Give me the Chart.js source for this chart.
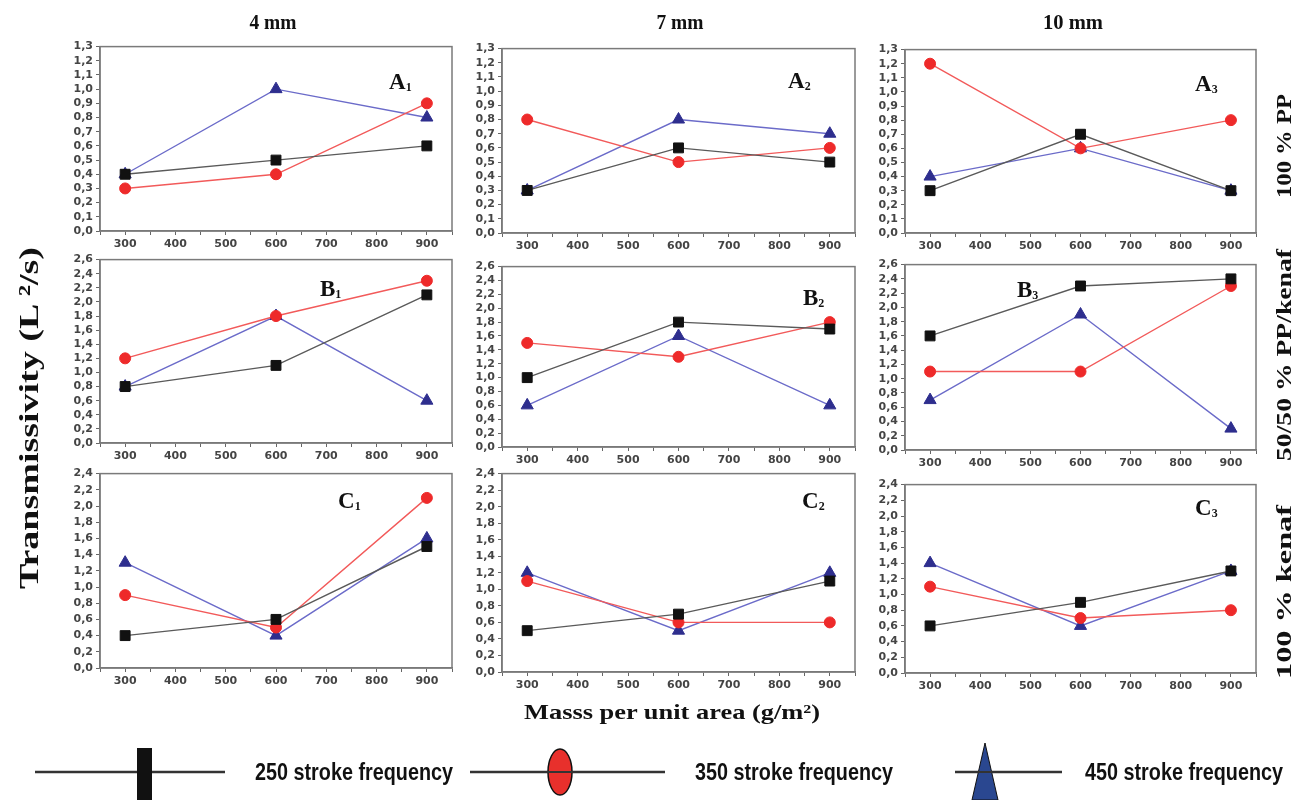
<!DOCTYPE html>
<html>
<head>
<meta charset="utf-8">
<script src="https://cdn.jsdelivr.net/npm/chart.js@4.4.0/dist/chart.umd.min.js"></script>
<style>
  html, body { margin: 0; padding: 0; background: #fff; }
  #page { position: relative; width: 1307px; height: 800px; overflow: hidden; }
  #page canvas { position: absolute; }
  #page svg { position: absolute; left: 0; top: 0; }
</style>
</head>
<body>
<div id="page"></div>
<script>
// mass per unit area (g/m2)
const massX = [300, 600, 900];

// row A : 100 % PP
const A1_250 = [0.4, 0.5, 0.6];
const A1_350 = [0.3, 0.4, 0.9];
const A1_450 = [0.4, 1.0, 0.8];
const A2_250 = [0.3, 0.6, 0.5];
const A2_350 = [0.8, 0.5, 0.6];
const A2_450 = [0.3, 0.8, 0.7];
const A3_250 = [0.3, 0.7, 0.3];
const A3_350 = [1.2, 0.6, 0.8];
const A3_450 = [0.4, 0.6, 0.3];

// row B : 50/50 % PP/kenaf
const B1_250 = [0.8, 1.1, 2.1];
const B1_350 = [1.2, 1.8, 2.3];
const B1_450 = [0.8, 1.8, 0.6];
const B2_250 = [1.0, 1.8, 1.7];
const B2_350 = [1.5, 1.3, 1.8];
const B2_450 = [0.6, 1.6, 0.6];
const B3_250 = [1.6, 2.3, 2.4];
const B3_350 = [1.1, 1.1, 2.3];
const B3_450 = [0.7, 1.9, 0.3];

// row C : 100 % kenaf
const C1_250 = [0.4, 0.6, 1.5];
const C1_350 = [0.9, 0.5, 2.1];
const C1_450 = [1.3, 0.4, 1.6];
const C2_250 = [0.5, 0.7, 1.1];
const C2_350 = [1.1, 0.6, 0.6];
const C2_450 = [1.2, 0.5, 1.2];
const C3_250 = [0.6, 0.9, 1.3];
const C3_350 = [1.1, 0.7, 0.8];
const C3_450 = [1.4, 0.6, 1.3];

const seriesNames = ['250 stroke frequency', '350 stroke frequency', '450 stroke frequency'];
const columnTitles = ['4 mm', '7 mm', '10 mm'];
const rowTitles = ['100 % PP', '50/50 % PP/kenaf', '100 % kenaf'];
const rowYMax = [1.3, 2.6, 2.4];
const rowYStep = [0.1, 0.2, 0.2];

// series look
const seriesStyle = [
  { line: '#5a5a5a', fill: '#111111', point: 'rect', r: 7 },
  { line: '#f25a5a', fill: '#ee2a2a', point: 'circle', r: 5.5 },
  { line: '#6b6bc9', fill: '#2e2e8e', point: 'triangle', r: 7 }
];

// plot area boxes [left, top, right, bottom] in page pixels
const panels = [
  { name: 'A', sub: '1', row: 0, data: [A1_250, A1_350, A1_450], box: [100, 45, 454, 231], tag: [389, 89] },
  { name: 'A', sub: '2', row: 0, data: [A2_250, A2_350, A2_450], box: [502, 47, 857, 233], tag: [788, 88] },
  { name: 'A', sub: '3', row: 0, data: [A3_250, A3_350, A3_450], box: [905, 48, 1258, 233], tag: [1195, 91] },
  { name: 'B', sub: '1', row: 1, data: [B1_250, B1_350, B1_450], box: [100, 258, 454, 443], tag: [320, 296] },
  { name: 'B', sub: '2', row: 1, data: [B2_250, B2_350, B2_450], box: [502, 265, 857, 447], tag: [803, 305] },
  { name: 'B', sub: '3', row: 1, data: [B3_250, B3_350, B3_450], box: [905, 263, 1258, 450], tag: [1017, 297] },
  { name: 'C', sub: '1', row: 2, data: [C1_250, C1_350, C1_450], box: [100, 472, 454, 668], tag: [338, 508] },
  { name: 'C', sub: '2', row: 2, data: [C2_250, C2_350, C2_450], box: [502, 472, 857, 672], tag: [802, 508] },
  { name: 'C', sub: '3', row: 2, data: [C3_250, C3_350, C3_450], box: [905, 483, 1258, 673], tag: [1195, 515] }
];

const YW = 44, XH = 24, PADT = 8, PADR = 6;
const page = document.getElementById('page');
const tickFont = { family: 'DejaVu Sans', weight: 'bold', size: 11 };

// top and right edges of the frame
const framePlugin = {
  id: 'frame',
  beforeDatasetsDraw(chart) {
    const a = chart.chartArea, ctx = chart.ctx;
    ctx.save();
    ctx.strokeStyle = '#7a7a7a';
    ctx.lineWidth = 1.5;
    ctx.strokeRect(a.left, a.top, a.right - a.left, a.bottom - a.top);
    ctx.restore();
  }
};

function makePanel(p) {
  const [L, T, R, B] = p.box;
  const cv = document.createElement('canvas');
  cv.width = R - L + YW + PADR;
  cv.height = B - T + PADT + XH;
  cv.style.left = (L - YW) + 'px';
  cv.style.top = (T - PADT) + 'px';
  page.appendChild(cv);

  const datasets = p.data.map((vals, i) => {
    const s = seriesStyle[i];
    return {
      label: seriesNames[i],
      data: massX.map((x, j) => ({ x: x, y: vals[j] })),
      borderColor: s.line,
      borderWidth: 1.4,
      backgroundColor: s.fill,
      pointStyle: s.point,
      pointRadius: s.r,
      pointBackgroundColor: s.fill,
      pointBorderColor: s.fill,
      pointBorderWidth: 1,
      tension: 0
    };
  });

  new Chart(cv, {
    type: 'line',
    data: { datasets: datasets },
    plugins: [framePlugin],
    options: {
      responsive: false,
      animation: false,
      devicePixelRatio: 1,
      layout: { padding: { top: PADT, right: PADR, left: 0, bottom: 0 } },
      plugins: { legend: { display: false }, tooltip: { enabled: false } },
      scales: {
        x: {
          type: 'linear',
          min: 250,
          max: 950,
          afterFit(s) { s.height = XH; },
          ticks: {
            stepSize: 50,
            autoSkip: false,
            maxRotation: 0,
            padding: 3,
            color: '#444',
            font: tickFont,
            callback: (v) => (v % 100 === 0 && v >= 300 && v <= 900 ? String(v) : '')
          },
          grid: { drawOnChartArea: false, drawTicks: true, tickLength: 4, color: '#666' },
          border: { color: '#7a7a7a', width: 1.5 }
        },
        y: {
          min: 0,
          max: rowYMax[p.row],
          afterFit(s) { s.width = YW; },
          ticks: {
            stepSize: rowYStep[p.row],
            autoSkip: false,
            padding: 3,
            color: '#444',
            font: tickFont,
            callback: (v) => Number(v).toFixed(1).replace('.', ',')
          },
          grid: { drawOnChartArea: false, drawTicks: true, tickLength: 4, color: '#666' },
          border: { color: '#7a7a7a', width: 1.5 }
        }
      }
    }
  });
}

panels.forEach(makePanel);

// text and legend overlay
const NS = 'http://www.w3.org/2000/svg';
const svg = document.createElementNS(NS, 'svg');
svg.setAttribute('width', 1307);
svg.setAttribute('height', 800);
page.appendChild(svg);

function el(tag, attrs, text) {
  const e = document.createElementNS(NS, tag);
  for (const k in attrs) e.setAttribute(k, attrs[k]);
  if (text !== undefined) e.textContent = text;
  svg.appendChild(e);
  return e;
}
const serif = "'Liberation Serif', 'DejaVu Serif', serif";
const narrow = "'Liberation Sans Narrow', 'Liberation Sans', sans-serif";

const colTitleX = [273, 680, 1073];
const colTitleW = [47, 47, 60];
columnTitles.forEach((t, i) => {
  el('text', { x: colTitleX[i], y: 29, 'text-anchor': 'middle', 'font-family': serif, 'font-weight': 'bold',
    'font-size': 20, textLength: colTitleW[i], lengthAdjust: 'spacingAndGlyphs', fill: '#111' }, t);
});

// y axis title
el('text', { x: 0, y: 0, transform: 'translate(38,418) rotate(-90)', 'text-anchor': 'middle', 'font-family': serif,
  'font-weight': 'bold', 'font-size': 28, textLength: 342, lengthAdjust: 'spacingAndGlyphs', fill: '#111' },
  'Transmissivity (L \u00B2/s)');

// row titles on the right
const rowTitleY = [146, 355, 592];
const rowTitleW = [104, 212, 174];
rowTitles.forEach((t, i) => {
  el('text', { x: 0, y: 0, transform: 'translate(1291,' + rowTitleY[i] + ') rotate(-90)', 'text-anchor': 'middle',
    'font-family': serif, 'font-weight': 'bold', 'font-size': 21, textLength: rowTitleW[i],
    lengthAdjust: 'spacingAndGlyphs', fill: '#111' }, t);
});

// x axis title
el('text', { x: 672, y: 719, 'text-anchor': 'middle', 'font-family': serif, 'font-weight': 'bold', 'font-size': 21,
  textLength: 296, lengthAdjust: 'spacingAndGlyphs', fill: '#111' }, 'Masss per unit area (g/m\u00B2)');

// panel tags A1 ... C3
panels.forEach((p) => {
  const t = el('text', { x: p.tag[0], y: p.tag[1], 'font-family': serif, 'font-weight': 'bold', 'font-size': 23, fill: '#111' });
  const a = document.createElementNS(NS, 'tspan');
  a.textContent = p.name;
  t.appendChild(a);
  const b = document.createElementNS(NS, 'tspan');
  b.setAttribute('font-size', 12);
  b.setAttribute('dy', 2);
  b.textContent = p.sub;
  t.appendChild(b);
});

// legend
const legY = 772;
el('line', { x1: 35, y1: legY, x2: 225, y2: legY, stroke: '#333', 'stroke-width': 2.5 });
el('rect', { x: 137, y: 748, width: 15, height: 52, fill: '#111' });
el('line', { x1: 470, y1: legY, x2: 665, y2: legY, stroke: '#333', 'stroke-width': 2.5 });
el('ellipse', { cx: 560, cy: legY, rx: 12, ry: 23, fill: '#e8302c', stroke: '#111', 'stroke-width': 1.5 });
el('line', { x1: 547, y1: legY, x2: 573, y2: legY, stroke: '#333', 'stroke-width': 2 });
el('line', { x1: 955, y1: legY, x2: 1062, y2: legY, stroke: '#333', 'stroke-width': 2.5 });
el('polygon', { points: '985,743 972,800 998,800', fill: '#2a4790', stroke: '#111', 'stroke-width': 1 });
el('line', { x1: 975, y1: legY, x2: 995, y2: legY, stroke: '#333', 'stroke-width': 2 });

const legTextX = [255, 695, 1085];
seriesNames.forEach((n, i) => {
  el('text', { x: legTextX[i], y: 780, 'font-family': narrow, 'font-weight': 'bold', 'font-size': 24,
    textLength: 198, lengthAdjust: 'spacingAndGlyphs', fill: '#111' }, n);
});
</script>
</body>
</html>
